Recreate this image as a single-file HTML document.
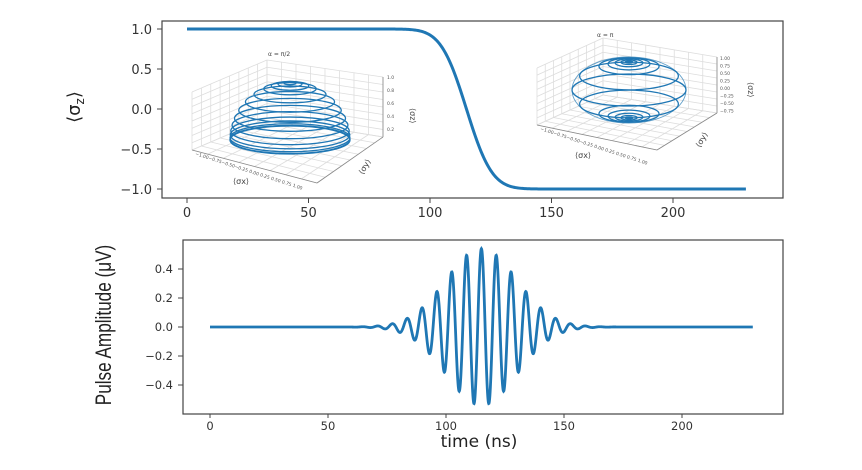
<!DOCTYPE html>
<html><head><meta charset="utf-8"><style>
html,body{margin:0;padding:0;background:#fff;}
svg{display:block;font-family:"DejaVu Sans","Liberation Sans",sans-serif;}
</style></head><body>
<svg id="s" width="862" height="470" viewBox="0 0 862 470" xmlns="http://www.w3.org/2000/svg">
<rect width="862" height="470" fill="#fff"/>
<g id="insets"></g>
<path id="top" fill="none" stroke="#1f77b4" stroke-width="3"/>
<path id="bot" fill="none" stroke="#1f77b4" stroke-width="2.8"/>
<rect x="162" y="21" width="621" height="177" fill="none" stroke="#444" stroke-width="1.2"/>
<rect x="183" y="240" width="600" height="174" fill="none" stroke="#444" stroke-width="1.2"/>
<g id="ticks" font-size="13" fill="#333"></g>
<text transform="translate(80,107) rotate(-90)" font-size="18" text-anchor="middle" fill="#222">⟨σ<tspan font-size="12" dy="4">z</tspan><tspan dy="-4">⟩</tspan></text>
<text transform="translate(111,325) rotate(-90) scale(0.78,1)" font-size="22" text-anchor="middle" fill="#222" font-family="Liberation Sans, sans-serif">Pulse Amplitude (μV)</text>
<text x="479" y="447" font-size="17" text-anchor="middle" fill="#222">time (ns)</text>
</svg>
<script>
const NS="http://www.w3.org/2000/svg";
function el(p,t,a,txt){const e=document.createElementNS(NS,t);for(const k in a)e.setAttribute(k,a[k]);if(txt!==undefined)e.textContent=txt;p.appendChild(e);return e;}
function erf(x){const s=Math.sign(x);x=Math.abs(x);const t=1/(1+0.3275911*x);const y=1-(((((1.061405429*t-1.453152027)*t)+1.421413741)*t-0.284496736)*t+0.254829592)*t*Math.exp(-x*x);return s*y;}
let d="";for(let i=0;i<=460;i++){const t=i*0.5;const th=Math.PI*0.5*(1+erf((t-115)/(13*Math.SQRT2)));const v=Math.cos(th);d+=(i?"L":"M")+(187+t*2.43).toFixed(2)+","+(109-80*v).toFixed(2);}
document.getElementById("top").setAttribute("d",d);
d="";for(let i=0;i<=2300;i++){const t=i*0.1;let v=0;if(t>60&&t<172){v=0.54*Math.exp(-Math.pow(t-115,2)/(2*225))*Math.cos(2*Math.PI*(t-115)/6.3);}d+=(i?"L":"M")+(210+t*2.36).toFixed(2)+","+(327-145*v).toFixed(2);}
document.getElementById("bot").setAttribute("d",d);
const tk=document.getElementById("ticks");
[[1,"1.0"],[0.5,"0.5"],[0,"0.0"],[-0.5,"−0.5"],[-1,"−1.0"]].forEach(([v,s])=>{const y=109-80*v;el(tk,"line",{x1:157,x2:162,y1:y,y2:y,stroke:"#444"});el(tk,"text",{x:152,y:y+5,"text-anchor":"end"},s);});
[0,50,100,150,200].forEach(t=>{const x=187+t*2.43;el(tk,"line",{x1:x,x2:x,y1:198,y2:203,stroke:"#444"});el(tk,"text",{x:x,y:217,"text-anchor":"middle"},String(t));});
[[0.4,"0.4"],[0.2,"0.2"],[0,"0.0"],[-0.2,"−0.2"],[-0.4,"−0.4"]].forEach(([v,s])=>{const y=327-145*v;el(tk,"line",{x1:178,x2:183,y1:y,y2:y,stroke:"#444"});el(tk,"text",{x:173,y:y+4,"text-anchor":"end","font-size":"11.5"},s);});
[0,50,100,150,200].forEach(t=>{const x=210+t*2.36;el(tk,"line",{x1:x,x2:x,y1:414,y2:418,stroke:"#444"});el(tk,"text",{x:x,y:430,"text-anchor":"middle","font-size":"11.5"},String(t));});
const g=document.getElementById("insets");
function lerp(a,b,f){return [a[0]+(b[0]-a[0])*f,a[1]+(b[1]-a[1])*f];}
function pane(A,B,C,D,n){
 for(let i=0;i<=n;i++){const f=i/n;const p=lerp(A,B,f),q=lerp(D,C,f);el(g,"line",{x1:p[0],y1:p[1],x2:q[0],y2:q[1],stroke:"#ddd","stroke-width":0.8});
 const r=lerp(A,D,f),s=lerp(B,C,f);el(g,"line",{x1:r[0],y1:r[1],x2:s[0],y2:s[1],stroke:"#ddd","stroke-width":0.8});}}
function box(o){
 pane(o.tl,o.tm,o.bm,o.bl,8);pane(o.tm,o.tr,o.br,o.bm,8);pane(o.bl,o.bm,o.br,o.ff,8);
 el(g,"line",{x1:o.bl[0],y1:o.bl[1],x2:o.ff[0],y2:o.ff[1],stroke:"#888","stroke-width":0.8});
 el(g,"line",{x1:o.ff[0],y1:o.ff[1],x2:o.br[0],y2:o.br[1],stroke:"#888","stroke-width":0.8});
 el(g,"line",{x1:o.tr[0],y1:o.tr[1],x2:o.br[0],y2:o.br[1],stroke:"#888","stroke-width":0.8});
}
box({tl:[192,92],tm:[267,60],tr:[383,77],bl:[192,150],bm:[267,118],br:[383,137],ff:[317,183]});
box({tl:[537,68],tm:[603,38],tr:[717,57],bl:[537,125],bm:[603,95],br:[717,113],ff:[657,150]});
function rings(cx,base,H,RX,RY,zs,w){zs.forEach(z=>{const r=Math.sqrt(Math.max(0,1-z*z));el(g,"ellipse",{cx:cx,cy:base-z*H,rx:RX*r,ry:RY*r,fill:"none",stroke:"#1f77b4","stroke-width":w});});}
rings(290,140,57,60,14,[0.995,0.98,0.95,0.9,0.8,0.67,0.52,0.38,0.26,0.16,0.09,0.04,0.01,0],1.3);
rings(629,90,28,57,16,[0.998,0.99,0.97,0.93,0.85,0.5,0,-0.5,-0.85,-0.93,-0.97,-0.99,-0.998],1.3);
el(g,"ellipse",{cx:629,cy:90,rx:57,ry:33,fill:"none",stroke:"#1f77b4","stroke-width":0.9,opacity:0.7});
const sm={"font-size":"6","fill":"#444"};
el(g,"text",Object.assign({x:268,y:56},sm),"α = π/2");
el(g,"text",Object.assign({x:597,y:37},sm),"α = π");
el(g,"text",{x:233,y:184,"font-size":"8",fill:"#444"},"⟨σx⟩");
el(g,"text",{x:575,y:158,"font-size":"8",fill:"#444"},"⟨σx⟩");
["1.0","0.8","0.6","0.4","0.2"].forEach((s,i)=>el(g,"text",{x:387,y:79+i*13,"font-size":"4.5",fill:"#555"},s));
["1.00","0.75","0.50","0.25","0.00","−0.25","−0.50","−0.75"].forEach((s,i)=>el(g,"text",{x:720,y:60+i*7.5,"font-size":"4.5",fill:"#555"},s));
el(g,"text",{transform:"translate(410,108) rotate(90)","font-size":"8",fill:"#444"},"⟨σz⟩");
el(g,"text",{transform:"translate(748,82) rotate(90)","font-size":"8",fill:"#444"},"⟨σz⟩");
el(g,"text",{transform:"translate(363,175) rotate(-60)","font-size":"8",fill:"#444"},"⟨σy⟩");
el(g,"text",{transform:"translate(700,148) rotate(-60)","font-size":"8",fill:"#444"},"⟨σy⟩");
el(g,"text",{transform:"translate(195,155) rotate(18)","font-size":"4.5",fill:"#555"},"−1.00−0.75−0.50−0.25 0.00 0.25 0.50 0.75 1.00");
el(g,"text",{transform:"translate(540,130) rotate(18)","font-size":"4.5",fill:"#555"},"−1.00−0.75−0.50−0.25 0.00 0.25 0.50 0.75 1.00");
</script>
</body></html>
